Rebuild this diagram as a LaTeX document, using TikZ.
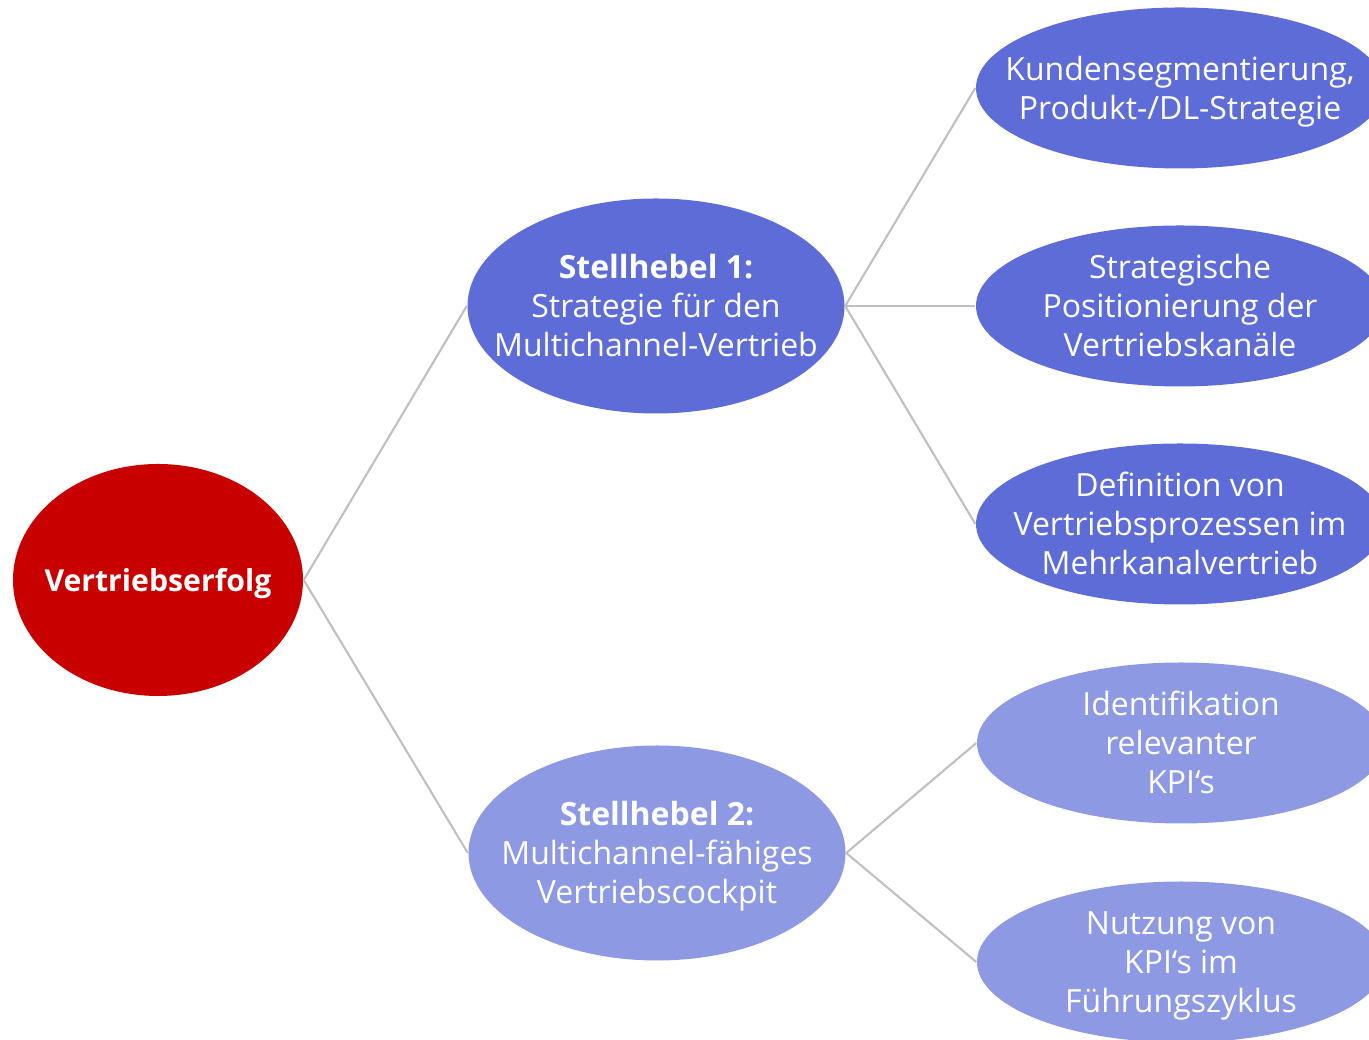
\documentclass[tikz,border=0pt]{standalone}
\usepackage{fontspec}
\setmainfont{Open Sans}
\usetikzlibrary{shapes.geometric}
\definecolor{erfolgrot}{HTML}{C80000}
\definecolor{hebelblau}{HTML}{5E6CD8}
\definecolor{hebelhell}{HTML}{8E99E4}
\definecolor{astgrau}{HTML}{C0C0C0}
% Text ohne eigene Breite, damit die Ellipse ihre feste Groesse behaelt
\newcommand{\blasentext}[1]{\makebox[0pt]{\smash{\raisebox{-3.4pt}{\begin{tabular}{@{}c@{}}#1\end{tabular}}}}}

\begin{document}
\begin{tikzpicture}[
		bubble/.style={ellipse, inner sep=0pt, text=white, font=\fontsize{9.1}{11.1}\selectfont},
		ziel/.style={bubble, fill=erfolgrot, minimum width=2.90cm, minimum height=2.32cm, font=\fontsize{8.6}{11.1}\selectfont\bfseries},
		hebel/.style={bubble, minimum width=3.77cm, minimum height=2.15cm},
		massnahme/.style={bubble, minimum width=4.08cm, minimum height=1.61cm},
		ast/.style={astgrau, line width=0.6pt}
	]
	\clip (0,0) rectangle (13.69,10.40);
	% Ziel
	\node[ziel] (erfolg) at (1.58,4.60) {\blasentext{Vertriebserfolg}};
	% Stellhebel
	\node[hebel, fill=hebelblau] (hebelA) at (6.56,7.34) {\blasentext{\textbf{Stellhebel 1:}\\Strategie f\"ur den\\Multichannel-Vertrieb}};
	\node[hebel, fill=hebelhell] (hebelB) at (6.57,1.87) {\blasentext{\textbf{Stellhebel 2:}\\Multichannel-f\"ahiges\\Vertriebscockpit}};
	% Massnahmen
	\node[massnahme, fill=hebelblau] (segment) at (11.80,9.52) {\blasentext{Kundensegmentierung,\\Produkt-/DL-Strategie}};
	\node[massnahme, fill=hebelblau] (kanal) at (11.80,7.34) {\blasentext{Strategische\\Positionierung der\\Vertriebskan\"ale}};
	\node[massnahme, fill=hebelblau] (prozess) at (11.80,5.16) {\blasentext{Definition von\\Vertriebsprozessen im\\Mehrkanalvertrieb}};
	\node[massnahme, fill=hebelhell] (kpi) at (11.81,2.97) {\blasentext{Identifikation\\relevanter\\KPI‘s}};
	\node[massnahme, fill=hebelhell] (nutzung) at (11.81,0.78) {\blasentext{Nutzung von\\KPI‘s im\\F\"uhrungszyklus}};
	% Aeste
	\draw[ast] (erfolg.east) -- (hebelA.west);
	\draw[ast] (erfolg.east) -- (hebelB.west);
	\foreach \ende in {segment,kanal,prozess}{
		\draw[ast] (hebelA.east) -- (\ende.west);
	}
	\foreach \ende in {kpi,nutzung}{
		\draw[ast] (hebelB.east) -- (\ende.west);
	}
\end{tikzpicture}
\end{document}
